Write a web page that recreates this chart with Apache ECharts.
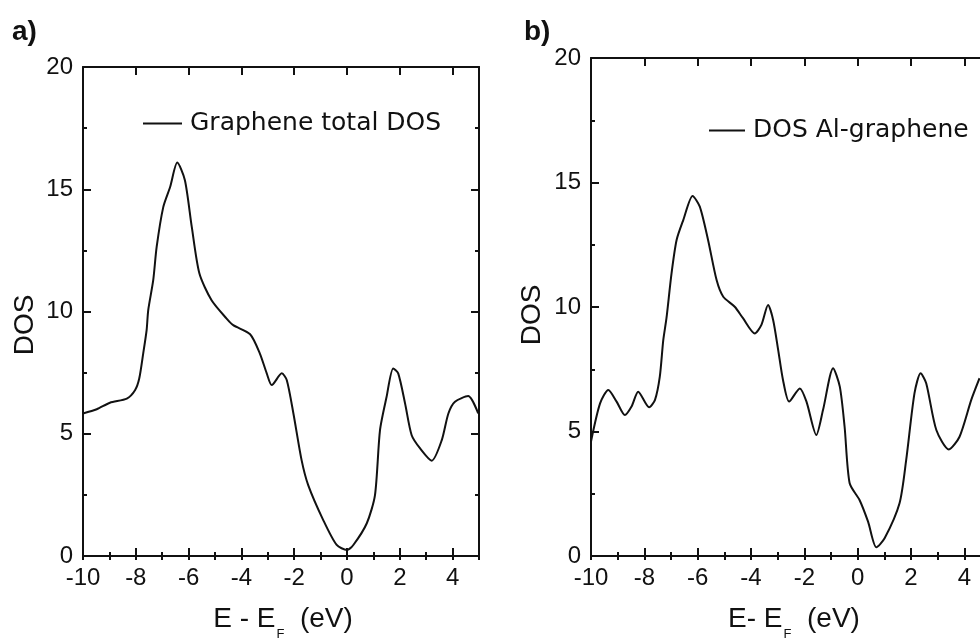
<!DOCTYPE html>
<html><head><meta charset="utf-8">
<script src="https://cdn.jsdelivr.net/npm/echarts@6/dist/echarts.min.js"></script>
<style>html,body{margin:0;padding:0;background:#fff}#c{width:980px;height:640px}</style>
</head><body><div id="c"></div>
<script>
// Panel a: Graphene total DOS
const energyA = [-10,-9.48,-8.98,-8.34,-8.03,-7.87,-7.72,-7.59,-7.53,-7.34,-7.21,-6.96,-6.70,-6.43,-6.14,-5.88,-5.59,-5.13,-4.56,-4.31,-3.67,-3.30,-3.04,-2.85,-2.47,-2.28,-2.03,-1.72,-1.47,-0.90,-0.39,0.0,0.24,0.75,1.06,1.25,1.50,1.75,1.94,2.20,2.45,2.77,3.21,3.59,3.84,4.09,4.59,4.97];
const dosA = [5.83,6.0,6.27,6.44,6.78,7.26,8.28,9.24,10.05,11.28,12.64,14.27,15.09,16.09,15.37,13.46,11.55,10.46,9.71,9.44,9.07,8.28,7.47,6.99,7.47,7.19,5.83,3.92,2.90,1.47,0.45,0.25,0.45,1.34,2.49,5.15,6.51,7.67,7.47,6.24,4.94,4.40,3.90,4.74,5.83,6.31,6.54,5.83];
// Panel b: DOS Al-graphene
const energyB = [-10,-9.66,-9.35,-9.04,-8.73,-8.48,-8.23,-7.82,-7.60,-7.42,-7.29,-7.17,-6.98,-6.79,-6.54,-6.19,-5.92,-5.61,-5.29,-5.04,-4.61,-4.30,-3.86,-3.61,-3.36,-3.17,-2.98,-2.80,-2.57,-2.17,-1.92,-1.55,-1.30,-0.92,-0.67,-0.49,-0.30,0.07,0.39,0.70,1.01,1.57,1.82,2.13,2.36,2.57,2.95,3.42,3.82,4.26,4.57];
const dosB = [4.6,6.13,6.67,6.20,5.66,6.0,6.60,5.97,6.27,7.20,8.67,9.55,11.35,12.69,13.49,14.46,14.03,12.69,11.08,10.41,10.01,9.55,8.94,9.28,10.08,9.48,8.27,7.07,6.20,6.73,6.20,4.86,5.86,7.54,6.80,5.19,2.92,2.25,1.38,0.35,0.71,2.12,3.86,6.53,7.34,6.94,5.06,4.28,4.79,6.27,7.14];

const seriesNames = ['Graphene total DOS', 'DOS Al-graphene'];
const panelLabels = ['a)', 'b)'];
const xTitles = [['E - E', 'F', '  (eV)'], ['E- E', 'F', '  (eV)']];
const yTitle = 'DOS';
const xMin = -10, xMax = 5, xMajor = 2, xMinor = 1;
const yMin = 0, yMax = 20, yMajor = 5;

const tickFont = '"Liberation Sans Narrow","Arial Narrow","Liberation Sans",Arial,sans-serif';
const black = '#111';

const grids = [
  {left: 83, top: 67, width: 396, height: 489, outerBoundsMode: 'none', containLabel: false},
  {left: 591, top: 58, width: 400, height: 498, outerBoundsMode: 'none', containLabel: false}
];

const xAxes = [], yAxes = [];
grids.forEach((g, gi) => {
  ['bottom', 'top'].forEach(pos => {
    xAxes.push({
      type: 'value', gridIndex: gi, position: pos, min: xMin, max: xMax, interval: xMajor,
      axisLine: {show: true, onZero: false, lineStyle: {color: black, width: 2}},
      axisTick: {show: true, inside: true, length: 8, lineStyle: {color: black, width: 2}},
      axisLabel: {show: pos === 'bottom', showMaxLabel: false, color: black, fontFamily: tickFont, fontSize: 24, margin: 10},
      splitLine: {show: false}
    });
    xAxes.push({
      type: 'value', gridIndex: gi, position: pos, min: xMin, max: xMax, interval: xMinor,
      axisLine: {show: false},
      axisTick: {show: true, inside: true, length: 4, lineStyle: {color: black, width: 2}},
      axisLabel: {show: false}, splitLine: {show: false}
    });
  });
  ['left', 'right'].forEach(pos => {
    yAxes.push({
      type: 'value', gridIndex: gi, position: pos, min: yMin, max: yMax, interval: yMajor,
      axisLine: {show: true, onZero: false, lineStyle: {color: black, width: 2}},
      axisTick: {show: true, inside: true, length: 8, lineStyle: {color: black, width: 2}},
      minorTick: {show: true, splitNumber: 2, length: 4, lineStyle: {color: black, width: 2}},
      axisLabel: {show: pos === 'left', color: black, fontFamily: tickFont, fontSize: 24, margin: 10},
      splitLine: {show: false}, minorSplitLine: {show: false}
    });
  });
});

const datasets = [[energyA, dosA], [energyB, dosB]];
const series = datasets.map((d, i) => ({
  name: seriesNames[i], type: 'line', xAxisIndex: i * 4, yAxisIndex: i * 2,
  data: d[0].map((x, k) => [x, d[1][k]]),
  showSymbol: false, symbol: 'none', smooth: 0.25,
  lineStyle: {color: black, width: 2}, itemStyle: {color: black}, silent: true
}));

const legendPos = [{left: 143, top: 111, w: 39}, {left: 709, top: 118, w: 36}];
const legends = seriesNames.map((n, i) => ({
  data: [n], left: legendPos[i].left, top: legendPos[i].top, padding: 0,
  icon: 'rect', itemWidth: legendPos[i].w, itemHeight: 2, selectedMode: false,
  itemStyle: {color: black},
  textStyle: {color: black, fontFamily: '"DejaVu Sans",sans-serif', fontSize: 25, padding: [0, 0, 0, 3]}
}));

const titleFont = '"Liberation Sans",Arial,sans-serif';
const graphics = [];
const labelPos = [[12, 18], [524, 18]];
const dosPos = [[25, 325], [532, 315]];
const xtPos = [[283, 633], [794, 633]];
[0, 1].forEach(i => {
  graphics.push({type: 'text', left: labelPos[i][0], top: labelPos[i][1],
    style: {text: panelLabels[i], fill: black, font: 'bold 28px ' + titleFont}});
  graphics.push({type: 'text', x: dosPos[i][0], y: dosPos[i][1], rotation: Math.PI / 2,
    style: {text: yTitle, fill: black, font: '28px ' + titleFont, align: 'center', verticalAlign: 'middle'}});
  const t = xTitles[i];
  graphics.push({type: 'text', x: xtPos[i][0], y: xtPos[i][1],
    style: {
      text: '{m|' + t[0] + '}{s|' + t[1] + '}{m|' + t[2] + '}',
      align: 'center', verticalAlign: 'bottom', fill: black,
      rich: {
        m: {fontFamily: titleFont, fontSize: 28, fill: black, verticalAlign: 'bottom', lineHeight: 32},
        s: {fontFamily: titleFont, fontSize: 13, fill: black, verticalAlign: 'bottom', lineHeight: 32, padding: [0, 0, -8, 1]}
      }
    }});
});

const chart = echarts.init(document.getElementById('c'), null, {renderer: 'canvas'});
chart.setOption({
  animation: false, backgroundColor: '#fff',
  grid: grids, xAxis: xAxes, yAxis: yAxes, series: series, legend: legends, graphic: graphics
});
</script>
</body></html>
